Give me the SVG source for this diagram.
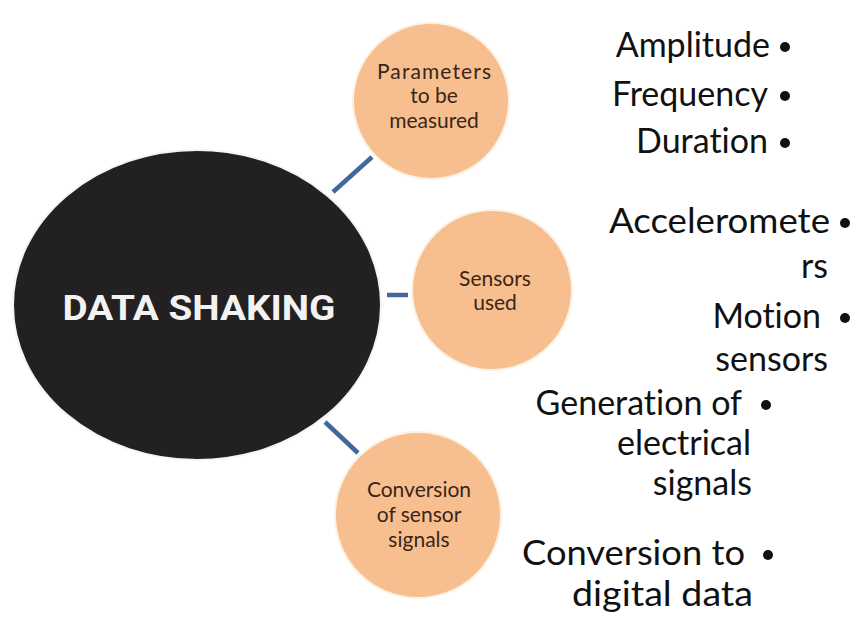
<svg xmlns="http://www.w3.org/2000/svg" width="853" height="641" viewBox="0 0 853 641">
<style>
.sub{fill:#f7bf8f;stroke:#fdf1e4;stroke-width:2}
.lbl{font-family:Lato,"Open Sans","Liberation Sans",sans-serif;font-size:21px;fill:#3a2616;text-anchor:middle}
.item{font-family:Lato,"Open Sans","Liberation Sans",sans-serif;font-size:34px;fill:#111;text-anchor:end;font-variant-ligatures:none}
.dot{fill:#111}
.conn{stroke:#41689b;stroke-width:4.5;fill:none}
</style>
<rect width="853" height="641" fill="#fff"/>
<g id="connectors">
<line class="conn" x1="333" y1="192" x2="372" y2="157"/>
<line class="conn" x1="387" y1="295" x2="408" y2="295"/>
<line class="conn" x1="325" y1="422" x2="358" y2="453"/>
</g>
<g id="data-shaking">
<ellipse cx="197" cy="305" rx="184" ry="155" fill="#222021" stroke="#f4f4f4" stroke-width="2"/>
<text x="199" y="320" font-family="Roboto,'Liberation Sans',sans-serif" font-weight="bold" font-size="35" fill="#f2f2f2" text-anchor="middle" textLength="273" lengthAdjust="spacingAndGlyphs">DATA SHAKING</text>
</g>
<g id="parameters">
<circle class="sub" cx="431" cy="101" r="78"/>
<text class="lbl" x="434" y="79" textLength="114">Parameters</text>
<text class="lbl" x="434" y="103">to be</text>
<text class="lbl" x="434" y="128">measured</text>
</g>
<g id="sensors">
<circle class="sub" cx="492" cy="290" r="80"/>
<text class="lbl" x="495" y="286">Sensors</text>
<text class="lbl" x="495" y="310">used</text>
</g>
<g id="conversion">
<circle class="sub" cx="418" cy="515" r="83"/>
<text class="lbl" x="419" y="497">Conversion</text>
<text class="lbl" x="419" y="522">of sensor</text>
<text class="lbl" x="419" y="547">signals</text>
</g>
<g id="parameters-items">
<text class="item" x="770" y="57">Amplitude</text>
<circle class="dot" cx="785" cy="47" r="5"/>
<text class="item" x="768" y="106">Frequency</text>
<circle class="dot" cx="785" cy="96" r="5"/>
<text class="item" x="768" y="153">Duration</text>
<circle class="dot" cx="785" cy="143" r="5"/>
</g>
<g id="sensors-items">
<text class="item" x="830" y="233" textLength="221" lengthAdjust="spacingAndGlyphs">Acceleromete</text>
<circle class="dot" cx="845" cy="223" r="5"/>
<text class="item" x="828" y="278">rs</text>
<text class="item" x="821" y="328">Motion</text>
<circle class="dot" cx="845" cy="318" r="5"/>
<text class="item" x="828" y="371">sensors</text>
</g>
<g id="conversion-items">
<text class="item" x="742" y="415">Generation of</text>
<circle class="dot" cx="766" cy="405" r="5"/>
<text class="item" x="751" y="455">electrical</text>
<text class="item" x="752" y="495">signals</text>
<text class="item" x="745" y="565" textLength="223" lengthAdjust="spacingAndGlyphs">Conversion to</text>
<circle class="dot" cx="768" cy="555" r="5"/>
<text class="item" x="753" y="606" textLength="181" lengthAdjust="spacingAndGlyphs">digital data</text>
</g>
</svg>
